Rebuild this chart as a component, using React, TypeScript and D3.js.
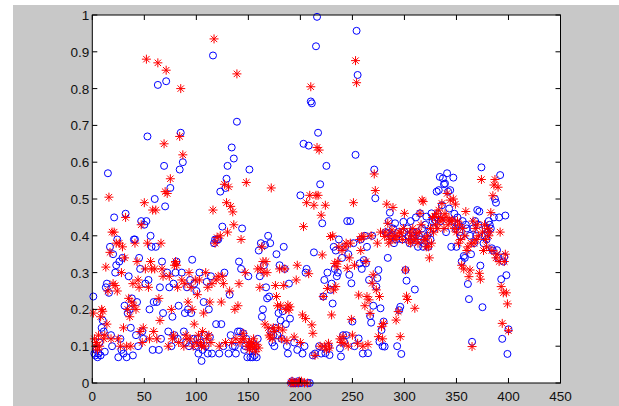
import * as d3 from 'd3';

// observed values (blue circles), x = 1..400
const blueY = [
  0.235, 0.08, 0.075, 0.09, 0.07, 0.08, 0.11, 0.075, 0.15, 0.17, 0.14, 0.085, 0.26, 0.27, 0.57, 0.245, 0.37, 0.13, 0.1, 0.35,
  0.45, 0.3, 0.32, 0.39, 0.07, 0.33, 0.12, 0.09, 0.34, 0.08, 0.21, 0.46, 0.07, 0.19, 0.29, 0.2, 0.15, 0.23, 0.075, 0.39,
  0.39, 0.13, 0.22, 0.1, 0.34, 0.31, 0.44, 0.14, 0.12, 0.43, 0.27, 0.44, 0.67, 0.28, 0.2, 0.4, 0.37, 0.09, 0.22, 0.5,
  0.37, 0.22, 0.81, 0.09, 0.26, 0.12, 0.33, 0.19, 0.59, 0.48, 0.82, 0.3, 0.14, 0.26, 0.53, 0.1, 0.18, 0.27, 0.13, 0.3,
  0.33, 0.12, 0.21, 0.58, 0.68, 0.3, 0.6, 0.14, 0.19, 0.11, 0.26, 0.2, 0.1, 0.28, 0.19, 0.335, 0.12, 0.27, 0.1, 0.25,
  0.12, 0.08, 0.3, 0.11, 0.06, 0.09, 0.22, 0.13, 0.1, 0.275, 0.08, 0.2, 0.125, 0.29, 0.08, 0.89, 0.38, 0.39, 0.16, 0.39,
  0.39, 0.08, 0.52, 0.16, 0.425, 0.1, 0.3, 0.53, 0.555, 0.59, 0.08, 0.24, 0.13, 0.64, 0.1, 0.61, 0.1, 0.08, 0.71, 0.14,
  0.33, 0.14, 0.31, 0.42, 0.135, 0.09, 0.1, 0.12, 0.07, 0.29, 0.58, 0.07, 0.1, 0.07, 0.09, 0.075, 0.1, 0.07, 0.12, 0.36,
  0.29, 0.38, 0.18, 0.2, 0.32, 0.375, 0.26, 0.23, 0.4, 0.235, 0.38, 0.14, 0.11, 0.13, 0.1, 0.15, 0.35, 0.13, 0.19, 0.32,
  0.17, 0.12, 0.195, 0.37, 0.31, 0.16, 0.1, 0.08, 0.27, 0.175, 0, 0.005, 0, 0.11, 0, 0, 0.09, 0.005, 0, 0.51,
  0, 0.08, 0.65, 0.1, 0.3, 0.31, 0, 0.645, 0, 0.765, 0.76, 0.075, 0.355, 0.08, 0.915, 0.995, 0.68, 0.1, 0.54, 0.08,
  0.434, 0.235, 0.28, 0.081, 0.59, 0.3, 0.1, 0.076, 0.253, 0.27, 0.216, 0.37, 0.31, 0.36, 0.29, 0.3, 0.39, 0.094, 0.072, 0.34,
  0.13, 0.112, 0.37, 0.13, 0.44, 0.35, 0.294, 0.44, 0.271, 0.167, 0.38, 0.1, 0.62, 0.957, 0.837, 0.121, 0.325, 0.39, 0.31, 0.08,
  0.334, 0.4, 0.325, 0.37, 0.081, 0.28, 0.182, 0.164, 0.4, 0.21, 0.58, 0.502, 0.262, 0.285, 0.307, 0.112, 0.203, 0.144, 0.1, 0.167,
  0.099, 0.41, 0.407, 0.34, 0.44, 0.463, 0.4, 0.398, 0.42, 0.38, 0.434, 0.39, 0.1, 0.41, 0.198, 0.207, 0.079, 0.39, 0.438, 0.41,
  0.307, 0.278, 0.42, 0.4, 0.38, 0.44, 0.39, 0.41, 0.4, 0.254, 0.45, 0.41, 0.37, 0.4, 0.461, 0.39, 0.42, 0.37, 0.38, 0.43,
  0.452, 0.4, 0.37, 0.41, 0.39, 0.461, 0.44, 0.42, 0.443, 0.45, 0.52, 0.46, 0.524, 0.56, 0.44, 0.483, 0.556, 0.54, 0.542, 0.41,
  0.57, 0.52, 0.474, 0.524, 0.37, 0.44, 0.558, 0.46, 0.42, 0.37, 0.45, 0.43, 0.41, 0.4, 0.33, 0.44, 0.345, 0.34, 0.43, 0.42,
  0.269, 0.228, 0.4, 0.35, 0.112, 0.42, 0.38, 0.44, 0.4, 0.47, 0.43, 0.466, 0.319, 0.586, 0.206, 0.38, 0.4, 0.42, 0.39, 0.41,
  0.44, 0.43, 0.42, 0.366, 0.36, 0.45, 0.5, 0.49, 0.361, 0.34, 0.45, 0.565, 0.282, 0.12, 0.33, 0.343, 0.455, 0.293, 0.079, 0.146,
];

// predicted values (red stars), x = 1..400
const redY = [
  0.19, 0.12, 0.1, 0.11, 0.09, 0.13, 0.1, 0.18, 0.2, 0.195, 0.12, 0.13, 0.315, 0.16, 0.25, 0.505, 0.355, 0.12, 0.41, 0.27,
  0.41, 0.265, 0.38, 0.25, 0.12, 0.38, 0.1, 0.3, 0.37, 0.15, 0.34, 0.45, 0.1, 0.2, 0.23, 0.18, 0.1, 0.22, 0.27, 0.21,
  0.38, 0.2, 0.33, 0.28, 0.26, 0.14, 0.43, 0.11, 0.15, 0.49, 0.31, 0.88, 0.38, 0.26, 0.12, 0.33, 0.31, 0.47, 0.14, 0.31,
  0.47, 0.12, 0.87, 0.23, 0.17, 0.38, 0.31, 0.29, 0.65, 0.52, 0.85, 0.515, 0.1, 0.29, 0.555, 0.2, 0.12, 0.13, 0.32, 0.33,
  0.32, 0.26, 0.11, 0.67, 0.8, 0.28, 0.62, 0.1, 0.27, 0.13, 0.12, 0.22, 0.3, 0.12, 0.26, 0.2, 0.1, 0.16, 0.28, 0.11,
  0.24, 0.13, 0.28, 0.11, 0.1, 0.14, 0.19, 0.1, 0.3, 0.12, 0.26, 0.13, 0.22, 0.11, 0.27, 0.47, 0.935, 0.38, 0.28, 0.395,
  0.29, 0.1, 0.4, 0.22, 0.29, 0.27, 0.54, 0.11, 0.49, 0.41, 0.533, 0.25, 0.48, 0.11, 0.465, 0.43, 0.2, 0.12, 0.84, 0.21,
  0.27, 0.11, 0.39, 0.12, 0.135, 0.12, 0.3, 0.545, 0.1, 0.11, 0.09, 0.1, 0.11, 0.095, 0.12, 0.1, 0.085, 0.105, 0.31, 0.095,
  0.26, 0.31, 0.37, 0.33, 0.3, 0.16, 0.33, 0.3, 0.15, 0.13, 0.125, 0.53, 0.12, 0.15, 0.14, 0.265, 0.235, 0.21, 0.15, 0.31,
  0.21, 0.12, 0.144, 0.265, 0.31, 0.2, 0.115, 0.212, 0.198, 0.207, 0, 0.005, 0, 0.125, 0, 0.28, 0.32, 0, 0.005, 0.11,
  0.005, 0.185, 0.425, 0, 0.175, 0.49, 0, 0.297, 0.51, 0.805, 0.158, 0.135, 0.483, 0.075, 0.51, 0.64, 0.51, 0.633, 0.1, 0.456,
  0.348, 0.235, 0.1, 0.483, 0.09, 0.257, 0.108, 0.095, 0.398, 0.185, 0.4, 0.253, 0.325, 0.262, 0.316, 0.33, 0.37, 0.12, 0.11, 0.36,
  0.126, 0.108, 0.37, 0.38, 0.312, 0.1, 0.34, 0.38, 0.173, 0.13, 0.49, 0.32, 0.876, 0.816, 0.108, 0.239, 0.39, 0.36, 0.398, 0.1,
  0.398, 0.21, 0.33, 0.235, 0.105, 0.226, 0.189, 0.4, 0.271, 0.294, 0.568, 0.523, 0.253, 0.38, 0.126, 0.235, 0.41, 0.153, 0.12, 0.162,
  0.398, 0.41, 0.486, 0.434, 0.38, 0.39, 0.4, 0.416, 0.477, 0.4, 0.39, 0.171, 0.398, 0.194, 0.41, 0.126, 0.407, 0.39, 0.42, 0.461,
  0.307, 0.236, 0.227, 0.389, 0.41, 0.38, 0.4, 0.42, 0.39, 0.203, 0.39, 0.407, 0.38, 0.41, 0.461, 0.43, 0.497, 0.493, 0.39, 0.389,
  0.37, 0.4, 0.37, 0.34, 0.42, 0.38, 0.45, 0.41, 0.452, 0.43, 0.46, 0.42, 0.47, 0.44, 0.45, 0.488, 0.443, 0.42, 0.46, 0.45,
  0.515, 0.43, 0.443, 0.497, 0.44, 0.443, 0.5, 0.42, 0.486, 0.41, 0.44, 0.38, 0.43, 0.39, 0.32, 0.42, 0.31, 0.4, 0.466, 0.36,
  0.37, 0.289, 0.307, 0.38, 0.099, 0.44, 0.38, 0.42, 0.39, 0.43, 0.4, 0.298, 0.282, 0.553, 0.41, 0.36, 0.43, 0.39, 0.37, 0.42,
  0.4, 0.41, 0.463, 0.36, 0.509, 0.538, 0.553, 0.34, 0.35, 0.532, 0.33, 0.41, 0.262, 0.162, 0.245, 0.33, 0.35, 0.245, 0.215, 0.142,
];

const xTicks = [0, 50, 100, 150, 200, 250, 300, 350, 400, 450];
const yTicks = [0, 0.1, 0.2, 0.3, 0.4, 0.5, 0.6, 0.7, 0.8, 0.9, 1];

const width = 619;
const height = 406;
const left = 92.3;
const right = 560.5;
const top = 15;
const bottom = 383;

const x = d3.scaleLinear([0, 450], [left, right]);
const y = d3.scaleLinear([0, 1], [bottom, top]);

const r = 4.5;
const d = 3.2;
const star = `M${-r},0H${r}M0,${-r}V${r}M${-d},${-d}L${d},${d}M${-d},${d}L${d},${-d}`;

export default function App() {
  return (
    <svg
      width={width}
      height={height}
      style={{ position: 'absolute', left: 0, top: 0, display: 'block' }}
      fontFamily="'Liberation Sans', Arial, sans-serif"
      fontSize={13.5}
    >
      <rect x={0} y={0} width={width} height={height} fill="#fff" />
      <rect x={13} y={5} width={width - 13} height={height - 5} fill="#c8c8c8" />
      <rect x={left} y={top} width={right - left} height={bottom - top} fill="#fff" />

      {blueY.map((v, i) => (
        <circle key={'b' + i} cx={x(i + 1)} cy={y(v)} r={3.5} fill="none" stroke="#0000ff" strokeWidth={1} />
      ))}
      {redY.map((v, i) => (
        <path key={'r' + i} d={star} transform={`translate(${x(i + 1)},${y(v)})`} fill="none" stroke="#ff0000" strokeWidth={1} />
      ))}

      <rect x={left} y={top} width={right - left} height={bottom - top} fill="none" stroke="#000" strokeWidth={1} />
      {xTicks.map((t) => (
        <g key={'x' + t}>
          <line x1={x(t)} x2={x(t)} y1={bottom} y2={bottom - 5} stroke="#000" />
          <line x1={x(t)} x2={x(t)} y1={top} y2={top + 5} stroke="#000" />
          <text x={x(t)} y={bottom + 17.5} textAnchor="middle" fill="#111">{t}</text>
        </g>
      ))}
      {yTicks.map((t) => (
        <g key={'y' + t}>
          <line x1={left} x2={left + 5} y1={y(t)} y2={y(t)} stroke="#000" />
          <line x1={right} x2={right - 5} y1={y(t)} y2={y(t)} stroke="#000" />
          <text x={left - 3} y={y(t) + 5} textAnchor="end" fill="#111">{t}</text>
        </g>
      ))}
    </svg>
  );
}
